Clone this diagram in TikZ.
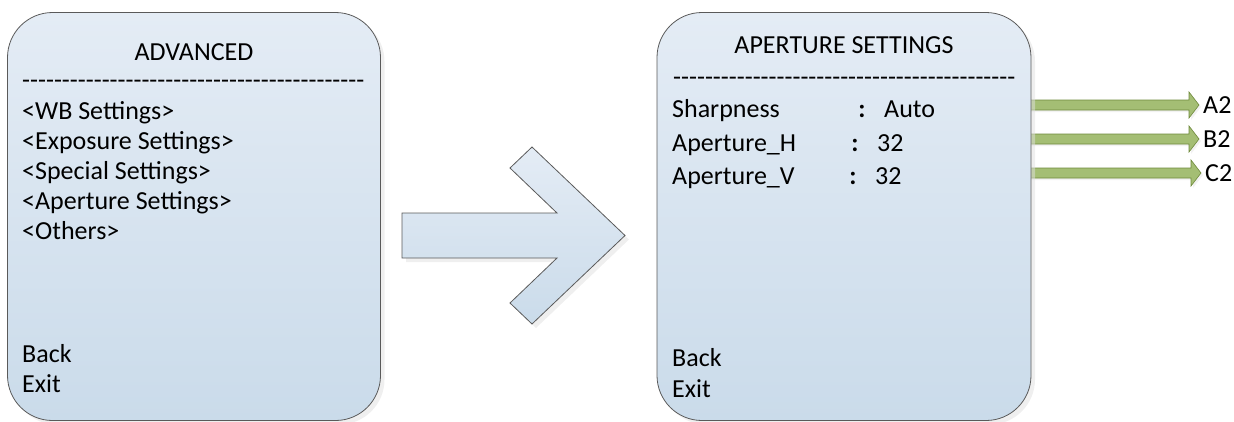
\documentclass[tikz,border=0pt]{standalone}
\usepackage{fontspec}
\setmainfont{Carlito}
\usetikzlibrary{positioning, calc, shadows}
\definecolor{boxtop}{HTML}{E4ECF5}
\definecolor{boxbottom}{HTML}{CADBEA}
\definecolor{boxline}{HTML}{5A5A5A}
\definecolor{arrowfill}{HTML}{A4BE74}
\definecolor{arrowline}{HTML}{6F8A3C}
\tikzset{
  menubox/.style={rectangle, rounded corners=45pt, draw=boxline, line width=0.8pt, top color=boxtop, bottom color=boxbottom, minimum height=408pt, drop shadow={shadow xshift=4pt, shadow yshift=-4pt, fill=black!12}},
  bigarrow/.style={draw=boxline, line width=0.8pt, top color=boxtop, bottom color=boxbottom, drop shadow={shadow xshift=4pt, shadow yshift=-4pt, fill=black!12}},
  sidearrow/.style={draw=arrowline, line width=0.6pt, fill=arrowfill, drop shadow={shadow xshift=2pt, shadow yshift=-2pt, fill=black!10}},
  menutext/.style={anchor=base west, inner sep=0pt, font=\fontsize{26}{30}\selectfont},
  menutitle/.style={anchor=base, inner sep=0pt, font=\fontsize{26}{30}\selectfont}
}
\newcommand{\dashrow}{\foreach \k in {1,...,43}{-\kern0pt}}
\newcommand{\greenarrow}[2]{
    \path[sidearrow] let \p1=(#1), \p2=(#2) in
      (\x1,\y2+5pt) -- (\x2-14pt,\y2+5pt) -- (\x2-14pt,\y2+13pt) -- (\x2-4pt,\y2)
      -- (\x2-14pt,\y2-13pt) -- (\x2-14pt,\y2-5pt) -- (\x1,\y2-5pt) -- cycle;
}

\begin{document}
\begin{tikzpicture}[x=1pt, y=-1pt]
    \useasboundingbox (0,0) rectangle (1234,421);

    % 1. Flechas verdes (detras del menu derecho)
    \node[menutext, anchor=west] (a2) at (1203,105) {A2};
    \node[menutext, anchor=west] (b2) at (1203,139) {B2};
    \node[menutext, anchor=west] (c2) at (1205,173) {C2};
    \coordinate (edge) at (1020,0);
    \greenarrow{edge}{a2.west}
    \greenarrow{edge}{b2.west}
    \greenarrow{edge}{c2.west}

    % 2. Menu ADVANCED
    \node[menubox, minimum width=373pt] (advbox) at (194,216.5) {};
    \node[menutitle] (advtitle) at (194,60) {ADVANCED};
    \node[menutext] (advdash) at (22,88) {\dashrow};
    \foreach \i/\txt in {1/{<WB Settings>}, 2/{<Exposure Settings>}, 3/{<Special Settings>}, 4/{<Aperture Settings>}, 5/{<Others>}} {
        \node[menutext] (adv\i) at (22,89+\i*30) {\txt};
    }
    \node[menutext] (advback) at (22,362) {Back};
    \node[menutext] (advexit) at (22,392) {Exit};

    % 3. Flecha grande
    \path[bigarrow] (402,213) -- (557,213) -- (510,168) -- (532,147) -- (625,235.5)
      -- (532,324) -- (510,303) -- (557,258) -- (402,258) -- cycle;

    % 4. Menu APERTURE SETTINGS
    \node[menubox, minimum width=374pt] (aperbox) at (844,216.5) {};
    \node[menutitle] (apertitle) at (844,53) {APERTURE SETTINGS};
    \node[menutext] (aperdash) at (673,85) {\dashrow};
    \foreach \i/\lbl/\yy/\cx/\val/\vx in {1/Sharpness/117/862/Auto/884, 2/Aperture\_H/151/855/32/877, 3/Aperture\_V/184/853/32/875} {
        \node[menutext] (aper\i) at (672,\yy) {\lbl};
        \node[menutitle] (colon\i) at (\cx,\yy) {\textbf{:}};
        \node[menutext] (val\i) at (\vx,\yy) {\val};
    }
    \node[menutext] (aperback) at (672,366) {Back};
    \node[menutext] (aperexit) at (672,397) {Exit};

\end{tikzpicture}
\end{document}
